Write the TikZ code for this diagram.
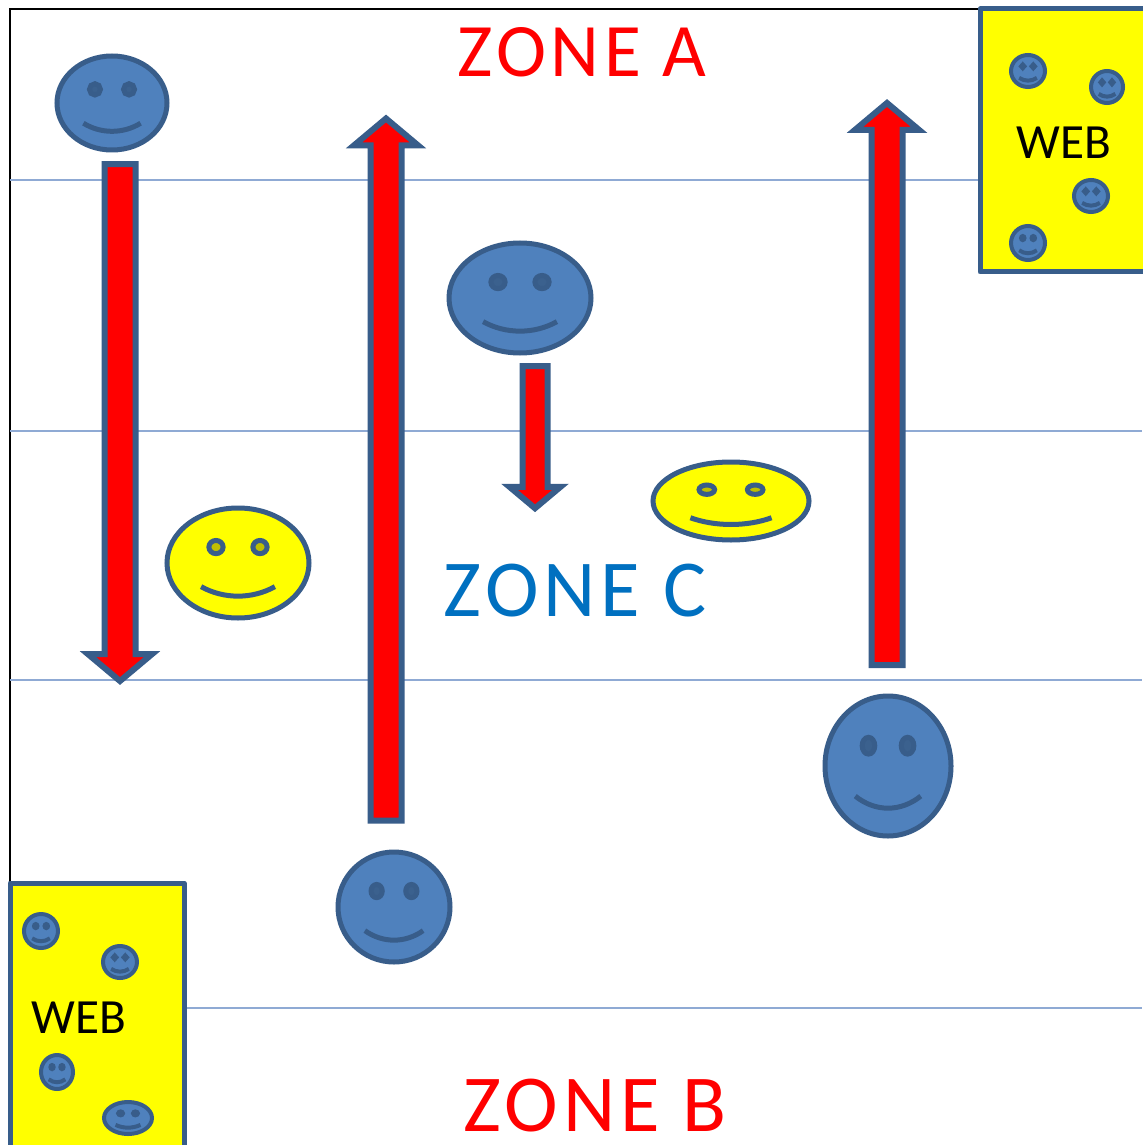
\documentclass[tikz,border=0pt]{standalone}
\usepackage{fontspec}
\setmainfont{Carlito}
\usetikzlibrary{shapes.geometric,shapes.arrows}
\definecolor{faceblue}{HTML}{4F81BD}
\definecolor{edgeblue}{HTML}{385D8A}
\definecolor{ruleblue}{HTML}{8FAAD4}
\definecolor{zonecyan}{HTML}{0070C0}
\definecolor{webyellow}{HTML}{FFFF00}
\def\px{0.02cm}
\tikzset{
  facestroke/.style={line width=5*\px},
  face/.style={ellipse,draw=edgeblue,fill=#1,facestroke,inner sep=0pt,outer sep=0pt},
  eye/.style={ellipse,draw=edgeblue,fill=#1,facestroke,inner sep=0pt,outer sep=0pt},
  webbox/.style={rectangle,draw=edgeblue,fill=webyellow,line width=5*\px,line join=round,inner sep=0pt,outer sep=0pt},
  blockarrow/.style={single arrow,draw=edgeblue,fill=red,line width=6*\px,inner sep=12.5*\px,outer sep=0pt,
    minimum width=62*\px,single arrow head extend=16.5*\px,single arrow tip angle=100},
  rule/.style={ruleblue,line width=2.5*\px},
  zone/.style={font=\fontsize{#1}{#1}\selectfont\addfontfeatures{LetterSpace=6},inner sep=0pt,text depth=0pt},
  webtext/.style={font=\fontsize{28}{28}\selectfont,inner sep=0pt,text depth=0pt}
}
% name, x, y, half width, half height, fill
\newcommand{\smiley}[6]{
  \node[face=#6,minimum width=2*#4*\px,minimum height=2*#5*\px] (#1) at (#2,#3) {};
  \node[eye=#6!75!black,minimum width=.2*#4*\px,minimum height=.24*#5*\px] (#1l) at (#2-.31*#4,#3-.29*#5) {};
  \node[eye=#6!75!black,minimum width=.2*#4*\px,minimum height=.24*#5*\px] (#1r) at (#2+.31*#4,#3-.29*#5) {};
  \draw[edgeblue,facestroke] (#2-.52*#4,#3+.43*#5) .. controls (#2-.2*#4,#3+.66*#5) and (#2+.2*#4,#3+.66*#5) .. (#2+.52*#4,#3+.43*#5);
}
\begin{document}
\begin{tikzpicture}[x=\px,y=-\px]
\useasboundingbox (0,0) rectangle (1142,1145);
\fill[white] (0,0) rectangle (1142,1145);
% frame and zone rules
\draw[black,line width=2*\px] (10,882) -- (10,9) -- (980,9);
\draw[rule] (10,180) -- (980,180);
\draw[rule] (10,431) -- (1142,431);
\draw[rule] (10,680) -- (1142,680);
\draw[rule] (185,1008) -- (1142,1008);
% zone names
\node[zone=43,red] (zoneA) at (582,52) {ZONE A};
\node[zone=46,zonecyan] (zoneC) at (575,590) {ZONE C};
\node[zone=46,red] (zoneB) at (595,1105) {ZONE B};
% arrows
\node[blockarrow,rotate=-90,minimum height=517*\px] (downL) at (120,416) {};
\node[blockarrow,rotate=90,minimum height=702*\px] (upM) at (386,476) {};
\node[blockarrow,rotate=-90,minimum height=142*\px,minimum width=49*\px,inner sep=9.5*\px,single arrow head extend=13*\px] (downM) at (535,432) {};
\node[blockarrow,rotate=90,minimum height=562*\px] (upR) at (887,390.5) {};
% faces
\smiley{faceA}{112}{103}{55}{47}{faceblue}
\smiley{faceC}{520}{298}{71}{55}{faceblue}
\smiley{faceB}{394}{907}{56}{55}{faceblue}
\smiley{faceD}{888}{766}{63}{70}{faceblue}
\smiley{faceE}{238}{563}{71}{55}{webyellow}
\smiley{faceF}{731}{501}{78}{39}{webyellow}
% web boxes
\node[webbox,minimum width=180*\px,minimum height=263*\px] (webA) at (1070,140.5) {};
\node[webbox,minimum width=174*\px,minimum height=280*\px] (webB) at (97,1023) {};
\node[webtext] (webAtext) at (1064,143) {WEB};
\node[webtext] (webBtext) at (79,1018) {WEB};
\begin{scope}[facestroke/.style={line width=4*\px}]
\smiley{miniA}{1028}{71}{17}{16}{faceblue}
\smiley{miniB}{1107}{87}{16}{16}{faceblue}
\smiley{miniC}{1091}{196}{17}{16}{faceblue}
\smiley{miniD}{1028}{243}{17}{17}{faceblue}
\smiley{miniE}{41}{931}{17}{17}{faceblue}
\smiley{miniF}{120}{962}{17}{16}{faceblue}
\smiley{miniG}{57}{1072}{16}{17}{faceblue}
\smiley{miniH}{128}{1118}{24}{16}{faceblue}
\end{scope}
\end{tikzpicture}
\end{document}
